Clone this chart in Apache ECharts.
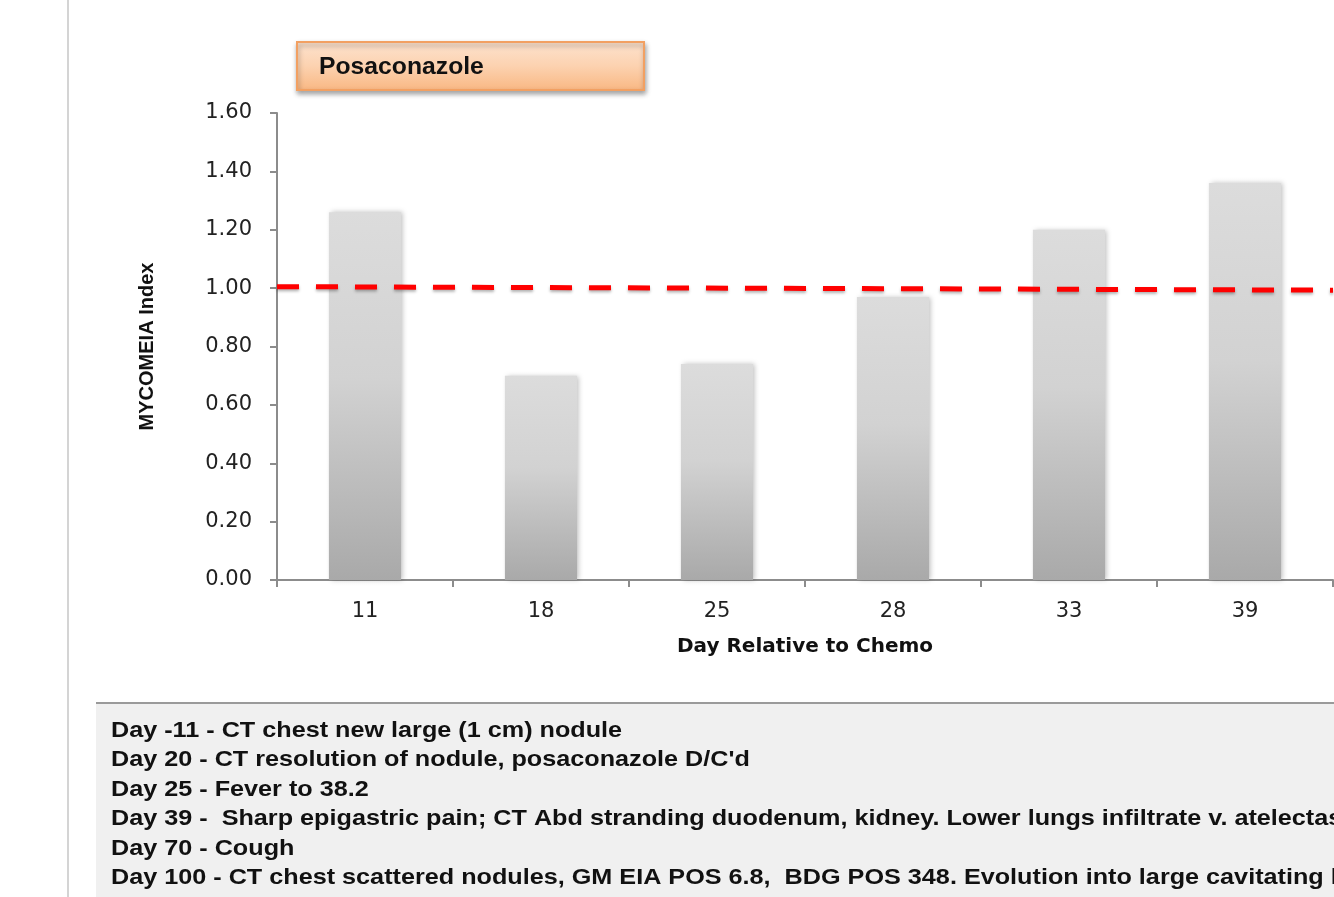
<!DOCTYPE html>
<html>
<head>
<meta charset="utf-8">
<script src="https://cdn.jsdelivr.net/npm/echarts@6/dist/echarts.min.js"></script>
<style>
html,body{margin:0;padding:0;background:#fff;overflow:hidden;}
#chart{width:1334px;height:897px;}
</style>
</head>
<body>
<div id="chart"></div>
<script>
const categories = ['11', '18', '25', '28', '33', '39'];
const mycomeiaValues = [1.26, 0.70, 0.74, 0.97, 1.20, 1.36];
const cutoffLine = [1.005, 0.993];
const chartTitle = 'Posaconazole';
const yAxisTitle = 'MYCOMEIA Index';
const xAxisTitle = 'Day Relative to Chemo';
const notes = [
  "Day -11 - CT chest new large (1 cm) nodule",
  "Day 20 - CT resolution of nodule, posaconazole D/C'd",
  "Day 25 - Fever to 38.2",
  "Day 39 -  Sharp epigastric pain; CT Abd stranding duodenum, kidney. Lower lungs infiltrate v. atelectasis",
  "Day 70 - Cough",
  "Day 100 - CT chest scattered nodules, GM EIA POS 6.8,  BDG POS 348. Evolution into large cavitating lesion"
];

const chart = echarts.init(document.getElementById('chart'), null, {renderer: 'canvas'});

const noteGraphics = notes.map((t, i) => ({
  type: 'text',
  x: 111,
  y: 730.5 + i * 29.5,
  scaleX: 1.12,
  z: 20,
  style: {
    text: t,
    fill: '#111',
    font: 'bold 22.5px "Liberation Sans", Arial, sans-serif',
    verticalAlign: 'middle'
  }
}));

const axisGrey = '#8c8c8c';

chart.setOption({
  animation: false,
  backgroundColor: '#ffffff',
  grid: {left: 277, top: 113, right: 1, bottom: 317, containLabel: false},
  xAxis: [{
    type: 'category',
    data: categories,
    axisLine: {lineStyle: {color: axisGrey, width: 2}},
    axisTick: {show: true, length: 7, lineStyle: {color: axisGrey, width: 2}, alignWithLabel: false},
    axisLabel: {color: '#222', fontSize: 21, fontFamily: '"DejaVu Sans", Verdana, sans-serif', margin: 21},
    name: xAxisTitle,
    nameLocation: 'middle',
    nameGap: 57,
    nameTextStyle: {color: '#111', fontSize: 20, fontWeight: 'bold', fontFamily: '"DejaVu Sans", Verdana, sans-serif'}
  }, {
    type: 'value',
    min: 0, max: 1,
    show: false
  }],
  yAxis: {
    type: 'value',
    min: 0, max: 1.6, interval: 0.2,
    axisLine: {show: true, lineStyle: {color: axisGrey, width: 2}},
    axisTick: {show: true, length: 7, lineStyle: {color: axisGrey, width: 2}},
    splitLine: {show: false},
    axisLabel: {color: '#222', fontSize: 21, fontFamily: '"DejaVu Sans", Verdana, sans-serif', margin: 25,
      padding: [5, 0, 0, 0],
      formatter: v => v.toFixed(2)},
    name: yAxisTitle,
    nameLocation: 'middle',
    nameGap: 120,
    nameRotate: 90,
    nameTextStyle: {color: '#111', fontSize: 20, fontWeight: 'bold', fontFamily: '"Liberation Sans", Arial, sans-serif'}
  },
  series: [{
    type: 'bar',
    data: mycomeiaValues,
    barWidth: '41%',
    itemStyle: {
      color: new echarts.graphic.LinearGradient(0, 0, 0, 1, [
        {offset: 0, color: '#dcdcdc'},
        {offset: 0.45, color: '#d2d2d2'},
        {offset: 1, color: '#a9a9a9'}
      ]),
      shadowColor: 'rgba(0,0,0,0.25)',
      shadowBlur: 5,
      shadowOffsetX: 2,
      shadowOffsetY: 0
    },
    z: 2
  }, {
    type: 'line',
    xAxisIndex: 1,
    data: [[0, cutoffLine[0]], [1, cutoffLine[1]]],
    symbol: 'none',
    lineStyle: {color: '#ff0000', width: 5, type: [22, 17],
      shadowColor: 'rgba(0,0,0,0.3)', shadowBlur: 3, shadowOffsetY: 2},
    z: 5
  }],
  graphic: [
    {type: 'rect', left: 67, top: 0, shape: {width: 2, height: 897}, style: {fill: '#d4d4d4'}, z: 1},
    {type: 'rect', left: 96, top: 703, shape: {width: 1300, height: 200}, style: {fill: '#f0f0f0'}, z: 10},
    {type: 'rect', left: 96, top: 702, shape: {width: 1300, height: 2}, style: {fill: '#9a9a9a'}, z: 11},
    {
      type: 'group', left: 296, top: 41, z: 30,
      children: [
        {type: 'rect', shape: {x: 0, y: 0, width: 347, height: 48},
          style: {
            fill: new echarts.graphic.LinearGradient(0, 0, 0, 1, [
              {offset: 0, color: '#fde3cf'},
              {offset: 0.5, color: '#fcd2b0'},
              {offset: 1, color: '#f9b782'}
            ]),
            stroke: '#f2a062', lineWidth: 2,
            shadowColor: 'rgba(0,0,0,0.35)', shadowBlur: 5, shadowOffsetX: 1, shadowOffsetY: 3
          }},
        {type: 'text', x: 22, y: 25, scaleX: 1.03,
          style: {text: chartTitle, fill: '#111', font: 'bold 24px "Liberation Sans", Arial, sans-serif', verticalAlign: 'middle'}}
      ]
    }
  ].concat(noteGraphics)
});
</script>
</body>
</html>
